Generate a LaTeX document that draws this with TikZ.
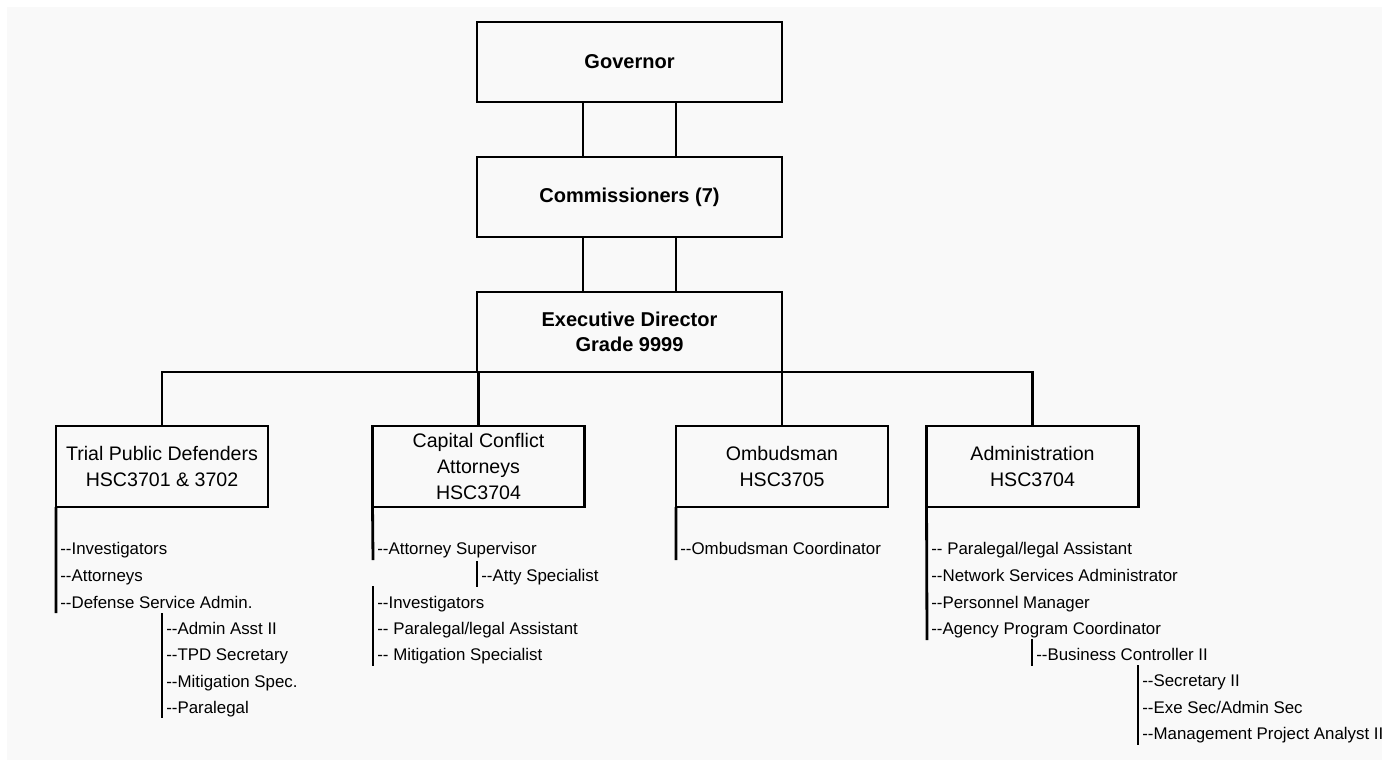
\documentclass[tikz,border=0pt]{standalone}
\usepackage{fontspec}
\setmainfont{Liberation Sans}

\definecolor{pagegray}{RGB}{249,249,249}
\newcommand{\itemdash}{-\kern0pt-}

\tikzset{
topbox/.style	= {draw, line width=1.6pt, outer sep=0pt, minimum width=6.1cm, minimum height=1.6cm,
		   align=center, font=\fontsize{11.4}{14.2}\selectfont\bfseries},
unitbox/.style	= {draw, line width=1.6pt, outer sep=0pt, minimum width=4.24cm, minimum height=1.62cm,
		   align=center, font=\fontsize{11.15}{15}\selectfont},
staff/.style	= {anchor=base west, inner sep=0pt, font=\fontsize{9.6}{11}\selectfont},
link/.style	= {line width=1.6pt}
}

\begin{document}
\begin{tikzpicture}[x=0.02cm, y=-0.02cm]
%\draw[help lines] (0,0) grid (1385,772);
\useasboundingbox (0,0) rectangle (1385,772);
\fill[pagegray] (7,7) rectangle (1382,760);

\node[topbox] (gov) at (629.5,62) {Governor};
\node[topbox] (comm) at (629.5,197) {Commissioners (7)};
\node[topbox] (exec) at (629.5,332) {Executive Director\\Grade 9999};

\node[unitbox] (tpd) at (162,466.5) {Trial Public Defenders\\HSC3701 \& 3702};
\node[unitbox] (cca) at (478.5,466.5) {Capital Conflict\\Attorneys\\HSC3704};
\node[unitbox] (omb) at (782,466.5) {Ombudsman\\HSC3705};
\node[unitbox] (adm) at (1032.5,466.5) {Administration\\HSC3704};

\draw[link] ([xshift=-0.93cm]gov.south) -- ([xshift=-0.93cm]comm.north);
\draw[link] ([xshift=0.93cm]gov.south) -- ([xshift=0.93cm]comm.north);
\draw[link] ([xshift=-0.93cm]comm.south) -- ([xshift=-0.93cm]exec.north);
\draw[link] ([xshift=0.93cm]comm.south) -- ([xshift=0.93cm]exec.north);

\draw[link] (tpd.north) |- (exec.south) -| (adm.north);
\draw[link] (cca.north) -- (cca.north |- exec.south);
\draw[link] (omb.north) -- (omb.north |- exec.south);

% trial public defenders
\node[staff] (tpd-inv) at (60,554) {\itemdash Investigators};
\node[staff] (tpd-att) at (60,581) {\itemdash Attorneys};
\node[staff] (tpd-dsa) at (60,608) {\itemdash Defense Service Admin.};
\node[staff] (tpd-asst) at (166,634) {\itemdash Admin Asst II};
\node[staff] (tpd-sec) at (166,660) {\itemdash TPD Secretary};
\node[staff] (tpd-mit) at (166,687) {\itemdash Mitigation Spec.};
\node[staff] (tpd-par) at (166,713) {\itemdash Paralegal};
\coordinate (tpd-end) at (56,613);
\coordinate (dsa-top) at (162,613);
\coordinate (dsa-end) at (162,718);
\draw[link] (tpd.south west) -- (tpd-end);
\draw[link] (dsa-top) -- (dsa-end);

% capital conflict attorneys
\node[staff] (cca-sup) at (377,554) {\itemdash Attorney Supervisor};
\node[staff] (cca-spec) at (481,581) {\itemdash Atty Specialist};
\node[staff] (cca-inv) at (377,608) {\itemdash Investigators};
\node[staff] (cca-par) at (377,634) {\itemdash\ Paralegal/legal Assistant};
\node[staff] (cca-mit) at (377,660) {\itemdash\ Mitigation Specialist};
\coordinate (cca-end) at (373,560);
\coordinate (sup-top) at (477,561);
\coordinate (sup-end) at (477,587);
\coordinate (cca-top2) at (373,586);
\coordinate (cca-end2) at (373,666);
\draw[link] (cca.south west) -- (cca-end);
\draw[link] (sup-top) -- (sup-end);
\draw[link] (cca-top2) -- (cca-end2);

% ombudsman
\node[staff] (omb-coord) at (680,554) {\itemdash Ombudsman Coordinator};
\coordinate (omb-end) at (676,560);
\draw[link] (omb.south west) -- (omb-end);

% administration
\node[staff] (adm-par) at (931,554) {\itemdash\ Paralegal/legal Assistant};
\node[staff] (adm-net) at (931,581) {\itemdash Network Services Administrator};
\node[staff] (adm-pers) at (931,608) {\itemdash Personnel Manager};
\node[staff] (adm-apc) at (931,634) {\itemdash Agency Program Coordinator};
\node[staff] (adm-bus) at (1036,660) {\itemdash Business Controller II};
\node[staff] (adm-sec) at (1142,686) {\itemdash Secretary II};
\node[staff] (adm-exe) at (1142,713) {\itemdash Exe Sec/Admin Sec};
\node[staff] (adm-mpa) at (1142,739) {\itemdash Management Project Analyst II};
\coordinate (adm-end) at (927,640);
\coordinate (apc-top) at (1032,639);
\coordinate (apc-end) at (1032,666);
\coordinate (bus-top) at (1138,665);
\coordinate (bus-end) at (1138,745);
\draw[link] (adm.south west) -- (adm-end);
\draw[link] (apc-top) -- (apc-end);
\draw[link] (bus-top) -- (bus-end);
\end{tikzpicture}
\end{document}
